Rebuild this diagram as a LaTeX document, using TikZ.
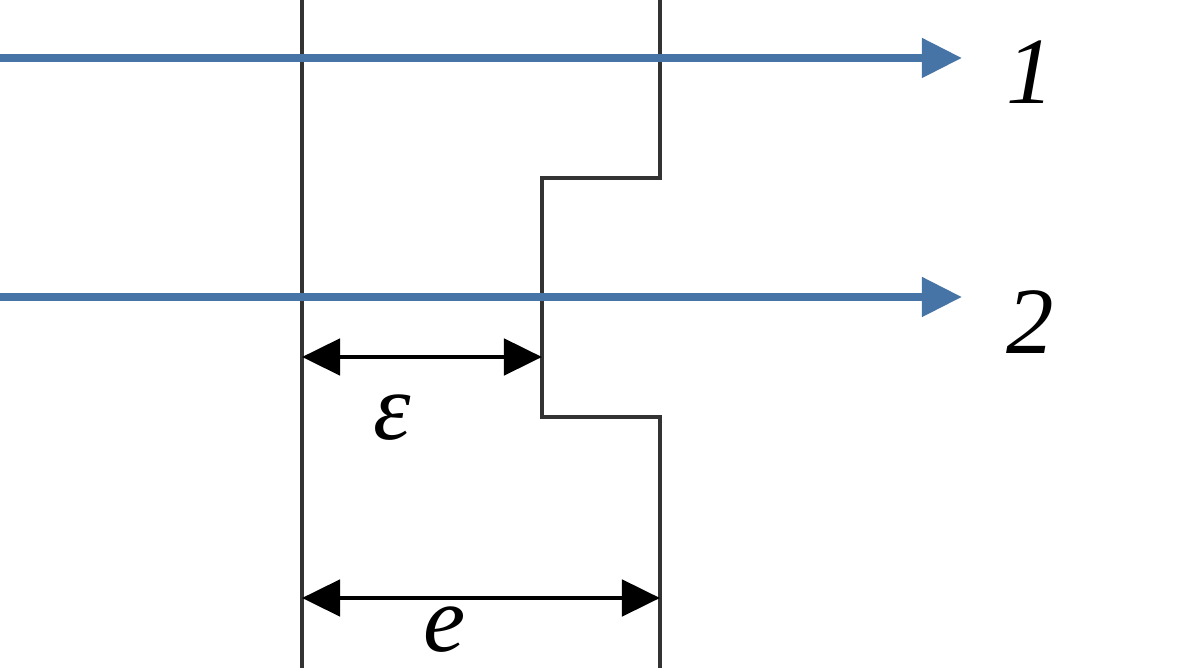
\documentclass[tikz,border=0pt]{standalone}
\usepackage{fontspec}
\newfontfamily\lblfont{Liberation Serif}
\usetikzlibrary{arrows.meta}
\definecolor{rayblue}{RGB}{70,116,166}
\tikzset{wall/.style={line width=1.4pt, draw=black!80},
	ray/.style={line width=2.2pt, draw=rayblue, -{Triangle[length=0.4cm,width=0.38cm]}},
	dim/.style={line width=1.4pt, {Triangle[length=0.38cm,width=0.36cm]}-{Triangle[length=0.38cm,width=0.36cm]}},
	raylabel/.style={font=\lblfont\itshape\fontsize{27}{31}\selectfont, inner sep=1pt}
}
\begin{document}
\begin{tikzpicture}[x=0.01cm,y=-0.01cm]
				\useasboundingbox (0,0) rectangle (1188,668);
				% walls
				\draw[wall] (302,0) -- (302,668);
				\draw[wall] (660,0) -- (660,178) -- (542,178) -- (542,417) -- (660,417) -- (660,668);
				% rays
				\coordinate (r1s) at (0,58);
				\coordinate (r1e) at (962,58);
				\coordinate (r2s) at (0,297);
				\coordinate (r2e) at (962,297);
				\draw[ray] (r1s) -- (r1e);
				\draw[ray] (r2s) -- (r2e);
				\node[raylabel] (one) at (1030,72) {1};
				\node[raylabel] (two) at (1030,322) {2};
				% dimensions
				\coordinate (epsl) at (302,357);
				\coordinate (epsr) at (542,357);
				\coordinate (el) at (302,598);
				\coordinate (er) at (660,598);
				\draw[dim] (epsl) -- (epsr);
				\draw[dim] (el) -- (er);
				\node[raylabel] (eps) at (392,418) {ε};
				\node[raylabel] (e) at (445,630) {e};
			\end{tikzpicture}
\end{document}
